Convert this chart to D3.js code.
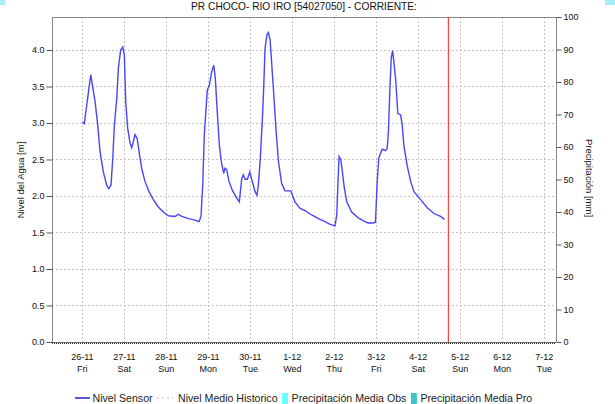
<html>
<head>
  <title>PR CHOCO - RIO IRO</title>
  <meta charset="utf-8" />
<script src="https://d3js.org/d3.v7.min.js"></script>
</head>
<style>
  body { margin: 0; background: #fff; }
  svg { display: block; font-family: "Liberation Sans", Arial, sans-serif; }
</style>
<body>
<div id="viz">
  <svg class="main" width="615" height="404"></svg>
</div>
<script>

// hours after 26-11-2021 00:00
var horas = [0, 1.1, 4.8, 7.3, 8.8, 10.1, 12, 13.9, 15.1, 16.4, 17.4, 18.3, 19.7, 20.6, 21.9, 23.1,
  24, 24.8, 25.9, 27.3, 28.2, 29.4, 30.1, 31.3, 32.4, 33.9, 35.8, 38.1, 40.6, 43.4, 46.3, 49.1,
  53, 54.9, 56.8, 60.6, 64.4, 66.7, 67.8, 68.8, 69.7, 70.7, 71.4, 72.6, 73.9, 75.1, 76, 77.1,
  78.3, 79.4, 80.8, 81.5, 82.5, 83.8, 85.7, 88.2, 89.7, 91.1, 92, 93, 94.3, 95.7, 97.1, 98.7,
  99.8, 100.6, 101.7, 102.9, 103.7, 104.4, 105.5, 106.3, 107.3, 109.1, 110.7, 112, 113.9, 115.8,
  119.1, 121.5, 124.4, 127.3, 131.1, 134.9, 138.7, 141.6, 144.4, 145.4, 146.1,
  146.7, 147.7, 148.6, 149.7, 151.1, 153.9, 157.7, 161.5, 163.4, 166.2, 167.5, 168.5, 169.4,
  171.3, 173.2, 174.2, 174.9, 175.7, 176.5, 177.3, 178, 179, 180.3, 181.9, 182.8, 183.7, 185.6,
  187.6, 189.5, 193.3, 197.1, 200.9, 204.7, 207]

// nivel sensor [m]
var nivel = [3.01, 2.99, 3.66, 3.29, 2.97, 2.61, 2.33, 2.15, 2.10, 2.15, 2.52, 2.97, 3.34, 3.75, 4.00, 4.04,
  3.93, 3.29, 2.93, 2.72, 2.66, 2.77, 2.84, 2.79, 2.61, 2.38, 2.20, 2.06, 1.95, 1.85, 1.78, 1.73,
  1.72, 1.75, 1.72, 1.69, 1.67, 1.65, 1.72, 2.15, 2.84, 3.20, 3.45, 3.52, 3.70, 3.79, 3.61, 3.15,
  2.70, 2.47, 2.31, 2.38, 2.36, 2.20, 2.08, 1.97, 1.92, 2.24, 2.29, 2.23, 2.23, 2.33, 2.20, 2.06,
  2.01, 2.15, 2.52, 3.06, 3.52, 4.02, 4.21, 4.24, 4.14, 3.50, 2.90, 2.49, 2.17, 2.07,
  2.07, 1.92, 1.83, 1.80, 1.74, 1.69, 1.65, 1.61, 1.59, 1.74, 2.20,
  2.54, 2.50, 2.33, 2.11, 1.92, 1.78, 1.70, 1.65, 1.63, 1.63, 1.64, 2.20, 2.52, 2.64,
  2.62, 2.65, 2.88, 3.43, 3.89, 3.99, 3.84, 3.61, 3.13, 3.11, 2.97, 2.70, 2.42, 2.20,
  2.06, 1.95, 1.84, 1.76, 1.72, 1.68, 1.67]

var dias = ["2021-11-26", "2021-11-27", "2021-11-28", "2021-11-29", "2021-11-30", "2021-12-01",
  "2021-12-02", "2021-12-03", "2021-12-04", "2021-12-05", "2021-12-06", "2021-12-07"]

var ticksNivel = [0, 0.5, 1, 1.5, 2, 2.5, 3, 3.5, 4]
var ticksPrecip = [0, 10, 20, 30, 40, 50, 60, 70, 80, 90, 100]

var ahora = "2021-12-04T17:10"
var titulo = "PR CHOCO- RIO IRO [54027050] - CORRIENTE:"

var legendLabels = ["Nivel Sensor", "Nivel Medio Historico", "Precipitación Media Obs", "Precipitación Media Pro"]
var legendKinds = ["line", "dots", "rect", "rect"]
var legendColors = ["#0000cc", "#bbbbbb", "#66ffff", "#40c4c4"]

var parseDay = d3.timeParse("%Y-%m-%d")
var parseNow = d3.timeParse("%Y-%m-%dT%H:%M")
var base = parseDay(dias[0])

var serie = horas.map(function (h, i) {
  return {t: base.getTime() + h * 3600e3, v: nivel[i]}
})

var pLeft = 52, pRight = 556, pTop = 17, pBottom = 342

var x = d3.scaleTime()
  .domain([new Date(2021, 10, 25, 6, 40), new Date(2021, 11, 7, 6, 40)])
  .range([pLeft, pRight])

var y = d3.scaleLinear().domain([0, 4.452]).range([pBottom, pTop])
var y2 = d3.scaleLinear().domain([0, 100]).range([pBottom, pTop])

var svg = d3.select("svg.main")

// little cyan corners
svg.append("rect").attr("x", 0).attr("y", 0).attr("width", 5).attr("height", 5).style("fill", "#a6ecf6")
svg.append("rect").attr("x", 605).attr("y", 0).attr("width", 10).attr("height", 5).style("fill", "#a6ecf6")

svg.append("text")
  .attr("x", 304).attr("y", 10)
  .attr("text-anchor", "middle")
  .style("font-size", "10.2px")
  .style("fill", "#111")
  .text(titulo)

// grid
var grid = svg.append("g")
grid.selectAll("line.h")
  .data(ticksNivel.slice(1))
  .enter().append("line")
  .attr("x1", pLeft).attr("x2", pRight)
  .attr("y1", function (d) {return Math.round(y(d)) + 0.5})
  .attr("y2", function (d) {return Math.round(y(d)) + 0.5})
  .style("stroke", "#c4c4c4").style("stroke-dasharray", "2,2")

grid.selectAll("line.v")
  .data(dias)
  .enter().append("line")
  .attr("x1", function (d) {return Math.round(x(parseDay(d))) + 0.5})
  .attr("x2", function (d) {return Math.round(x(parseDay(d))) + 0.5})
  .attr("y1", pTop).attr("y2", pBottom)
  .style("stroke", "#c4c4c4").style("stroke-dasharray", "2,2")

// frame
svg.append("line").attr("x1", pLeft).attr("x2", pRight).attr("y1", pTop + 0.5).attr("y2", pTop + 0.5).style("stroke", "#888")

var yAxis = svg.append("g")
  .attr("transform", "translate(" + (pLeft + 0.5) + ",0)")
  .call(d3.axisLeft(y).tickValues(ticksNivel).tickSize(6).tickPadding(2).tickFormat(d3.format(".1f")))
var y2Axis = svg.append("g")
  .attr("transform", "translate(" + (pRight + 0.5) + ",0)")
  .call(d3.axisRight(y2).tickValues(ticksPrecip).tickSize(5).tickPadding(2).tickFormat(d3.format("d")))

svg.selectAll(".domain").attr("d", "M0," + pTop + "V" + pBottom).style("stroke", "#888")
svg.selectAll(".tick line").style("stroke", "#555")
svg.selectAll(".tick text").style("font-size", "9px").style("fill", "#111")
  .style("font-family", "'Liberation Sans', Arial, sans-serif")

// bottom axis
svg.append("line").attr("x1", pLeft).attr("x2", pRight).attr("y1", pBottom + 0.5).attr("y2", pBottom + 0.5).style("stroke", "#666")
svg.append("line").attr("x1", pLeft).attr("x2", pRight).attr("y1", pBottom + 1.5).attr("y2", pBottom + 1.5)
  .style("stroke", "#333").style("stroke-dasharray", "1,1")

var fmtDia = d3.timeFormat("%-d-%m"), fmtSem = d3.timeFormat("%a")
var xl = svg.append("g").selectAll("text")
  .data(dias).enter().append("text")
  .attr("text-anchor", "middle")
  .style("font-size", "9px").style("fill", "#111")
xl.append("tspan").attr("x", function (d) {return x(parseDay(d))}).attr("y", 360).text(function (d) {return fmtDia(parseDay(d))})
xl.append("tspan").attr("x", function (d) {return x(parseDay(d))}).attr("y", 372).text(function (d) {return fmtSem(parseDay(d))})

// axis titles
svg.append("text")
  .attr("transform", "translate(24,180) rotate(-90)")
  .attr("text-anchor", "middle")
  .style("font-size", "9.5px").style("fill", "#111")
  .text("Nivel del Agua [m]")
svg.append("text")
  .attr("transform", "translate(586,178) rotate(90)")
  .attr("text-anchor", "middle")
  .style("font-size", "9.5px").style("fill", "#111")
  .text("Precipitación [mm]")

// series
var line = d3.line()
  .x(function (d) {return x(d.t)})
  .y(function (d) {return y(d.v)})

svg.append("path")
  .datum(serie)
  .attr("d", line)
  .style("fill", "none")
  .style("stroke", "#4646ff")
  .style("stroke-width", 1.4)

// now marker
svg.append("line")
  .attr("x1", x(parseNow(ahora))).attr("x2", x(parseNow(ahora)))
  .attr("y1", pTop).attr("y2", pBottom)
  .style("stroke", "#ff3c3c").style("stroke-width", 1.2)

// legend
var lx = 75, ly = 398
legendLabels.forEach(function (lab, i) {
  var g = svg.append("g")
  if (legendKinds[i] == "line") {
    g.append("line").attr("x1", lx).attr("x2", lx + 15).attr("y1", ly).attr("y2", ly)
      .style("stroke", legendColors[i]).style("stroke-width", 1.3)
    lx += 17.5
  } else if (legendKinds[i] == "dots") {
    g.append("line").attr("x1", lx).attr("x2", lx + 16).attr("y1", ly).attr("y2", ly)
      .style("stroke", legendColors[i]).style("stroke-dasharray", "2,3")
    lx += 21
  } else {
    g.append("rect").attr("x", lx).attr("y", ly - 5).attr("width", 6).attr("height", 11)
      .style("fill", legendColors[i])
    lx += 9.5
  }
  var t = g.append("text").attr("x", lx).attr("y", ly + 4)
    .style("font-size", "10.6px").style("fill", "#222")
    .text(lab)
  lx += t.node().getComputedTextLength() + 4.5
})

</script>
</body>
</html>
